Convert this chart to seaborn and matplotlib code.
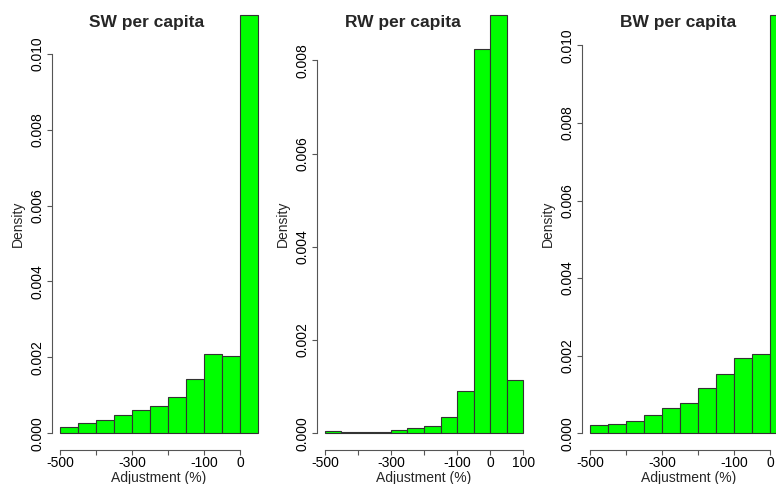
import numpy as np
import seaborn as sns
import matplotlib.pyplot as plt

# density per 50-point bin
sw_edges = [-500, -450, -400, -350, -300, -250, -200, -150, -100, -50, 0, 50]
sw_density = [0.00016, 0.00028, 0.00035, 0.00047, 0.00061, 0.00071,
              0.00096, 0.00142, 0.00208, 0.00203, 0.01103]

rw_edges = [-500, -450, -400, -350, -300, -250, -200, -150, -100, -50, 0, 50, 100]
rw_density = [0.00005, 0.00003, 0.00003, 0.00003, 0.00007, 0.00011,
              0.00016, 0.00035, 0.00091, 0.00824, 0.00898, 0.00114]

bw_edges = [-500, -450, -400, -350, -300, -250, -200, -150, -100, -50, 0, 50]
bw_density = [0.00021, 0.00023, 0.00031, 0.00048, 0.00064, 0.00077,
              0.00116, 0.00154, 0.00193, 0.00204, 0.01079]

titles = ["SW per capita", "RW per capita", "BW per capita"]
x_ticks = [[-500, -400, -300, -200, -100, 0],
           [-500, -400, -300, -200, -100, 0, 100],
           [-500, -400, -300, -200, -100, 0]]
x_labels = [["-500", "", "-300", "", "-100", "0"],
            ["-500", "", "-300", "", "-100", "0", "100"],
            ["-500", "", "-300", "", "-100", "0"]]
y_top = [0.010, 0.008, 0.010]

sns.set_theme(style="white")
plt.rcParams["font.family"] = ["Liberation Sans", "DejaVu Sans"]
plt.rcParams["font.size"] = 10

W, H = 776, 484
fig = plt.figure(figsize=(W / 100, H / 100), dpi=100)

panels = [(sw_edges, sw_density), (rw_edges, rw_density), (bw_edges, bw_density)]
title_x = [146.5, 403, 678]
axis_col = "#555555"

for i, (edges, dens) in enumerate(panels):
    left_px = 52 + 265 * i
    width_px = 214
    ax = fig.add_axes([left_px / W, 34 / H, width_px / W, 452 / H])
    mids = [(edges[j] + edges[j + 1]) / 2 for j in range(len(dens))]
    sns.histplot(x=mids, weights=dens, bins=edges, stat="count", ax=ax,
                 color="#00ff00", edgecolor="#333333", linewidth=0.8, alpha=1)

    span = edges[-1] - edges[0]
    ax.set_xlim(edges[0] - 0.04 * span, edges[-1] + 0.04 * span)
    ymax = max(dens)
    ax.set_ylim(-0.04 * ymax, 1.04 * ymax)

    for s in ["top", "right"]:
        ax.spines[s].set_visible(False)
    ax.spines["left"].set_bounds(0, y_top[i])
    ax.spines["bottom"].set_bounds(x_ticks[i][0], x_ticks[i][-1])
    for s in ["left", "bottom"]:
        ax.spines[s].set_color(axis_col)
        ax.spines[s].set_linewidth(0.8)

    ax.set_xticks(x_ticks[i])
    ax.set_xticklabels(x_labels[i])
    yt = np.arange(0, y_top[i] + 1e-9, 0.002)
    ax.set_yticks(yt)
    ax.set_yticklabels([f"{v:.3f}" for v in yt])
    plt.setp(ax.get_yticklabels(), rotation=90, va="center")
    ax.tick_params(axis="both", length=3.5, width=0.8, color=axis_col,
                   labelsize=10, labelcolor="black", bottom=True, left=True)
    ax.tick_params(axis="x", pad=0.5)
    ax.tick_params(axis="y", pad=2)

    ax.set_xlabel("Adjustment (%)", fontsize=10)
    ax.xaxis.label.set_va("center")
    ax.xaxis.set_label_coords(0.5, -28 / 452)
    ax.set_ylabel("Density", fontsize=10)
    ax.yaxis.label.set_va("center")
    ax.yaxis.set_label_coords(-34 / width_px, 0.5)
    ax.grid(False)

    fig.text(title_x[i] / W, 1 - 23 / H, titles[i], ha="center", va="center",
             fontsize=12.5, fontweight="bold")

fig.savefig("out.png", dpi=100)
